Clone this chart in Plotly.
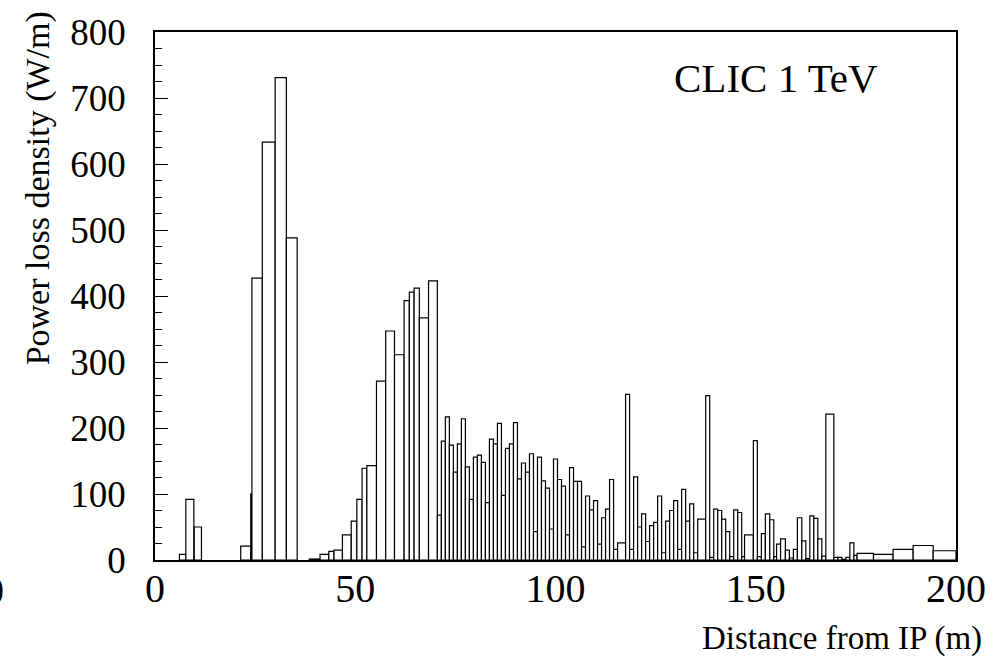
import plotly.graph_objects as go

# Histogram bins (m) and power loss density (W/m)
bin_lo = [6.1, 7.7, 9.8, 21.4, 23.9, 24.2, 26.8, 30.0, 32.8,
          38.5, 41.2, 43.4, 44.7, 46.8, 49.0, 50.4, 51.7, 52.9, 55.3, 57.6, 59.8, 62.2, 63.5, 64.7, 66.0, 68.3,
          70.5, 71.5, 72.5, 73.5, 74.5, 75.5, 76.5, 77.5, 78.5, 79.5,
          80.5, 81.5, 82.5, 83.5, 84.5, 85.5, 86.5, 87.5, 88.5, 89.5,
          90.5, 91.5, 92.5, 93.5, 94.5, 95.5, 96.5, 97.5, 98.5, 99.5,
          100.5, 101.5, 102.5, 103.5, 104.5, 105.5, 106.5, 107.5, 108.5, 109.5,
          110.5, 111.5, 112.5, 113.5, 114.5, 115.5, 117.5, 118.5, 119.5,
          120.5, 121.5, 122.5, 123.5, 124.5, 125.5, 126.5, 127.5, 128.5, 129.5,
          130.5, 131.5, 132.5, 133.5, 134.5, 135.5, 137.5, 138.5, 139.5,
          140.5, 141.5, 142.5, 143.5, 144.5, 145.5, 146.5, 147.2, 149.4,
          150.4, 151.4, 152.4, 153.5, 154.5, 155.2, 156.2, 157.4, 158.4, 159.4,
          160.4, 161.5, 162.5, 163.5, 164.5, 165.5, 166.5, 167.5, 169.5,
          170.5, 171.5, 172.5, 173.5, 174.5, 175.3, 179.4, 184.3, 189.3, 194.3]
bin_hi = [7.7, 9.7, 11.6, 23.9, 24.2, 26.8, 30.0, 32.8, 35.5,
          41.2, 43.4, 44.7, 46.8, 49.0, 50.4, 51.7, 52.9, 55.3, 57.6, 59.8, 62.2, 63.5, 64.7, 66.0, 68.3, 70.5,
          71.5, 72.5, 73.5, 74.5, 75.5, 76.5, 77.5, 78.5, 79.5, 80.5,
          81.5, 82.5, 83.5, 84.5, 85.5, 86.5, 87.5, 88.5, 89.5, 90.5,
          91.5, 92.5, 93.5, 94.5, 95.5, 96.5, 97.5, 98.5, 99.5, 100.5,
          101.5, 102.5, 103.5, 104.5, 105.5, 106.5, 107.5, 108.5, 109.5, 110.5,
          111.5, 112.5, 113.5, 114.5, 115.5, 117.5, 118.5, 119.5, 120.5,
          121.5, 122.5, 123.5, 124.5, 125.5, 126.5, 127.5, 128.5, 129.5, 130.5,
          131.5, 132.5, 133.5, 134.5, 135.5, 137.5, 138.5, 139.5, 140.5,
          141.5, 142.5, 143.5, 144.5, 145.5, 146.5, 147.2, 149.4, 150.4,
          151.4, 152.4, 153.5, 154.5, 155.2, 156.2, 157.4, 158.4, 159.4, 160.4,
          161.5, 162.5, 163.5, 164.5, 165.5, 166.5, 167.5, 169.5, 170.5,
          171.5, 172.5, 173.5, 174.5, 175.3, 179.4, 184.3, 189.3, 194.3, 200.0]
power = [8.5, 92, 50, 21, 100, 427, 633, 731, 488,
         1.5, 8.4, 13, 15, 38, 59, 92, 139, 143, 271, 347, 311, 393, 406, 412, 367, 423,
         68, 180, 217, 174, 133, 176, 214, 141, 92, 156,
         159, 148, 87, 183, 176, 207, 98, 169, 176, 208,
         123, 147, 133, 161, 43, 156, 120, 109, 47, 153,
         122, 112, 38, 140, 119, 119, 20, 97, 76, 90,
         24, 64, 77, 122, 16, 26, 251, 16, 126,
         50, 70, 28, 52, 57, 97, 11, 59, 75, 90,
         16, 107, 59, 85, 11, 62, 249, 4, 77,
         75, 62, 43, 5, 76, 72, 5, 38, 181,
         5, 40, 70, 61, 5, 24, 32, 15, 3, 16,
         64, 29, 2, 67, 63, 32, 6, 221, 4,
         4, 1, 4, 26, 7, 10, 8.5, 16, 22, 14]

x_ticks = [0, 50, 100, 150, 200]
y_ticks = [0, 100, 200, 300, 400, 500, 600, 700, 800]

centers = [(a + b) / 2 for a, b in zip(bin_lo, bin_hi)]
widths = [b - a for a, b in zip(bin_lo, bin_hi)]

FONT = "Liberation Serif"

fig = go.Figure()
fig.add_trace(go.Bar(
    x=centers, y=power, width=widths,
    marker=dict(color="white", line=dict(color="black", width=1.2)),
    showlegend=False,
))

fig.update_layout(
    width=1007, height=656,
    margin=dict(l=155, r=51, t=23, b=96),
    paper_bgcolor="white", plot_bgcolor="white",
    barmode="overlay",
    font=dict(family=FONT, color="black"),
    xaxis=dict(
        range=[0, 200], tickvals=x_ticks, ticktext=[str(v) for v in x_ticks],
        showgrid=False, zeroline=False, ticks="",
        showline=True, linecolor="black", linewidth=1.5, mirror=True,
        tickfont=dict(family=FONT, size=40, color="black"),
        ticklabelstandoff=-8,
    ),
    yaxis=dict(
        range=[0, 800], tickvals=y_ticks, ticktext=[str(v) for v in y_ticks],
        showgrid=False, zeroline=False,
        ticks="inside", ticklen=13, tickwidth=1.2, tickcolor="black",
        minor=dict(dtick=25, ticks="inside", ticklen=7, tickwidth=1.2, tickcolor="black", showgrid=False),
        showline=True, linecolor="black", linewidth=1.5, mirror=True,
        tickfont=dict(family=FONT, size=37, color="black"),
        ticklabelstandoff=20,
    ),
    annotations=[
        dict(text="Power loss density (W/m)", xref="paper", yref="paper",
             x=-0.146, y=0.704, xanchor="center", yanchor="middle",
             textangle=-90, showarrow=False,
             font=dict(family=FONT, size=34, color="black")),
        dict(text="Distance from IP (m)", xref="paper", yref="paper",
             x=1.035, y=-0.148, xanchor="right", yanchor="middle",
             showarrow=False, font=dict(family=FONT, size=33, color="black")),
        dict(text="CLIC 1 TeV", xref="paper", yref="paper",
             x=0.7755, y=0.912, xanchor="center", yanchor="middle",
             showarrow=False, font=dict(family=FONT, size=41, color="black")),
        dict(text="0", xref="paper", yref="paper",
             x=-0.201, y=-0.0577, xanchor="center", yanchor="middle",
             showarrow=False, font=dict(family=FONT, size=40, color="black")),
    ],
)

fig.write_html("out.html")
